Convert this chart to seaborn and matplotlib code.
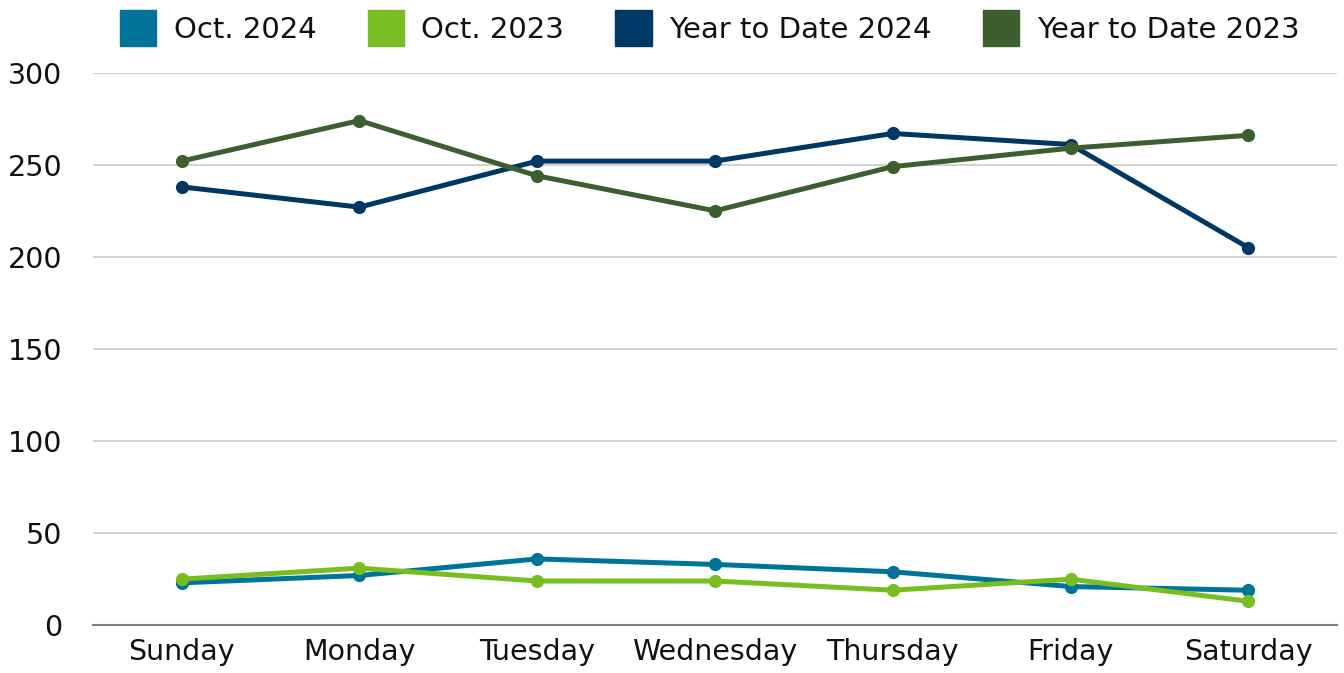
import pandas as pd
import numpy as np
import matplotlib
matplotlib.use("Agg")
import matplotlib.pyplot as plt
from matplotlib.patches import Patch
import seaborn as sns

days = ["Sunday", "Monday", "Tuesday", "Wednesday", "Thursday", "Friday", "Saturday"]
oct_2024 = [23, 27, 36, 33, 29, 21, 19]
oct_2023 = [25, 31, 24, 24, 19, 25, 13]
ytd_2024 = [238, 227, 252, 252, 267, 261, 205]
ytd_2023 = [252, 274, 244, 225, 249, 259, 266]

series = ["Oct. 2024", "Oct. 2023", "Year to Date 2024", "Year to Date 2023"]
colors = ["#007398", "#78BE21", "#003865", "#3D5E2F"]

rows = []
for name, vals in zip(series, [oct_2024, oct_2023, ytd_2024, ytd_2023]):
    for d, v in zip(days, vals):
        rows.append({"day": d, "value": v, "series": name})
df = pd.DataFrame(rows)

sns.set_theme(style="white")
plt.rcParams['font.family'] = ['DejaVu Sans']
plt.rcParams['text.color'] = "#111111"

fig, ax = plt.subplots(figsize=(13.44, 6.73), dpi=100)
fig.subplots_adjust(left=0.069, right=0.995, top=0.892, bottom=0.071)

sns.lineplot(data=df, x="day", y="value", hue="series", hue_order=series,
             palette=colors, marker="o", markersize=9.5, markeredgewidth=0,
             linewidth=3.6, sort=False, ax=ax, legend=False)

ax.set_xlim(-0.5, 6.5)
ax.set_ylim(0, 300)
ax.set_yticks(range(0, 301, 50))
ax.yaxis.grid(True, color="#c8c8c8", linewidth=1.1)
ax.set_axisbelow(True)
for s in ["left", "right", "top"]:
    ax.spines[s].set_visible(False)
ax.spines["bottom"].set_color("#808080")
ax.spines["bottom"].set_linewidth(1.5)
ax.tick_params(axis="both", length=0, labelsize=20.5, colors="#111111")
ax.tick_params(axis="x", pad=9)
ax.tick_params(axis="y", pad=22)
ax.set_xlabel("")
ax.set_ylabel("")

handles = [Patch(facecolor=c, edgecolor=c, label=n) for n, c in zip(series, colors)]
fig.legend(handles=handles, loc="center", bbox_to_anchor=(0.528, 0.958), ncol=4,
           frameon=False, fontsize=21, handlelength=1.25, handleheight=1.5,
           handletextpad=0.6, columnspacing=1.75, borderpad=0)

fig.savefig("out.png", dpi=100)
